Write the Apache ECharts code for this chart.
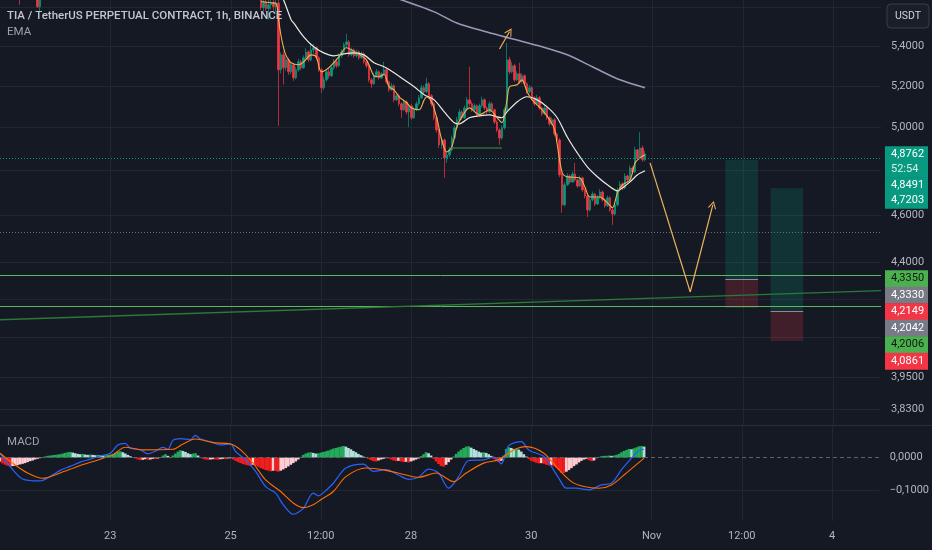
<!DOCTYPE html>
<html><head><meta charset="utf-8">
<script src="https://cdn.jsdelivr.net/npm/echarts@6.0.0/dist/echarts.min.js"></script>
<style>html,body{margin:0;padding:0;background:#151924;}#c{width:932px;height:550px;}</style>
</head><body><div id="c"></div><script>
// ---------- DATA ----------
const startTime = Date.UTC(2024, 9, 21, 4);   // first hourly category
const hourCount = 352;
const xTickTimes = ['2024-10-23 00:00','2024-10-25 00:00','2024-10-26 12:00','2024-10-28 00:00','2024-10-30 00:00','2024-11-01 00:00','2024-11-02 12:00','2024-11-04 00:00'];
const xTickLabels = ['23','25','12:00','28','30','Nov','12:00','4'];
const priceTickLabels = [5.4, 5.2, 5.0, 4.6, 4.4, 3.95, 3.83];
const priceGridTicks = [5.6, 5.4, 5.2, 5.0, 4.8, 4.6, 4.4, 4.25, 4.1, 3.95, 3.83];
const priceMin = 3.774, priceMax = 5.640;
const macdTickLabels = [0, -0.1];
const macdMin = -0.1924, macdMax = 0.0955;

// early candles peeking at the top edge: [hourIndex]
const earlyIdx = [8, 15, 16];
const earlyOhlc = [[5.700,5.660,5.614,5.720],[5.680,5.604,5.598,5.700],[5.604,5.660,5.577,5.680]];
// hourly candles [open, close, low, high] from hour index 104
const candleStart = 104;
const ohlc = [
[5.640,5.600,5.585,5.670],[5.600,5.630,5.575,5.660],[5.630,5.595,5.580,5.650],[5.595,5.615,5.535,5.640],[5.615,5.625,5.590,5.660],[5.625,5.605,5.585,5.650],[5.605,5.624,5.575,5.660],[5.624,5.280,5.007,5.640],[5.280,5.355,5.262,5.368],[5.355,5.290,5.206,5.372],
[5.290,5.330,5.275,5.345],[5.330,5.270,5.255,5.340],[5.270,5.305,5.258,5.318],[5.305,5.240,5.225,5.312],[5.240,5.280,5.232,5.295],[5.280,5.320,5.270,5.335],[5.320,5.290,5.278,5.330],[5.290,5.340,5.284,5.352],[5.340,5.370,5.330,5.388],[5.370,5.330,5.318,5.378],
[5.330,5.380,5.322,5.416],[5.380,5.391,5.360,5.410],[5.391,5.340,5.328,5.398],[5.340,5.280,5.268,5.348],[5.280,5.191,5.166,5.290],[5.191,5.230,5.180,5.246],[5.230,5.270,5.222,5.282],[5.270,5.250,5.236,5.285],[5.250,5.290,5.244,5.300],[5.290,5.320,5.280,5.334],
[5.320,5.300,5.288,5.330],[5.300,5.350,5.294,5.362],[5.350,5.370,5.340,5.384],[5.370,5.406,5.362,5.418],[5.406,5.421,5.392,5.462],[5.421,5.355,5.345,5.430],[5.355,5.380,5.348,5.392],[5.380,5.350,5.340,5.388],[5.350,5.370,5.342,5.382],[5.370,5.340,5.330,5.378],
[5.340,5.360,5.334,5.372],[5.360,5.320,5.310,5.368],[5.320,5.300,5.288,5.330],[5.300,5.230,5.218,5.306],[5.230,5.211,5.191,5.240],[5.211,5.250,5.204,5.262],[5.250,5.270,5.242,5.284],[5.270,5.240,5.230,5.276],[5.240,5.260,5.234,5.270],[5.260,5.280,5.250,5.320],
[5.280,5.220,5.210,5.288],[5.220,5.181,5.170,5.226],[5.181,5.201,5.175,5.215],[5.201,5.132,5.120,5.208],[5.132,5.152,5.125,5.166],[5.152,5.113,5.100,5.160],[5.113,5.084,5.046,5.120],[5.084,5.122,5.078,5.134],[5.122,5.074,5.062,5.130],[5.074,5.103,5.002,5.112],
[5.103,5.046,5.036,5.110],[5.046,5.084,5.040,5.096],[5.084,5.113,5.078,5.125],[5.113,5.142,5.106,5.156],[5.142,5.191,5.136,5.205],[5.191,5.171,5.160,5.202],[5.171,5.211,5.165,5.240],[5.211,5.152,5.142,5.218],[5.152,5.113,5.100,5.160],[5.113,5.046,5.034,5.120],
[5.046,4.988,4.975,5.052],[4.988,4.918,4.904,4.995],[4.918,4.941,4.900,4.955],[4.941,4.858,4.767,4.948],[4.858,4.872,4.835,4.885],[4.872,4.895,4.860,4.908],[4.895,4.950,4.888,4.962],[4.950,4.998,4.942,5.010],[4.998,5.036,4.990,5.050],[5.036,5.074,5.028,5.088],
[5.074,5.046,5.036,5.082],[5.046,5.093,5.040,5.105],[5.093,5.132,5.086,5.146],[5.132,5.113,5.100,5.295],[5.113,5.084,5.074,5.124],[5.084,5.103,5.076,5.115],[5.103,5.060,5.050,5.110],[5.060,5.103,5.054,5.114],[5.103,5.132,5.096,5.148],[5.132,5.093,5.084,5.140],
[5.093,5.074,5.064,5.100],[5.074,5.113,5.068,5.125],[5.113,5.084,5.074,5.120],[5.084,5.026,5.016,5.090],[5.026,4.988,4.978,5.034],[4.988,4.950,4.918,4.996],[4.950,4.998,4.942,5.010],[4.998,5.084,4.990,5.096],[5.084,5.330,5.076,5.416],[5.330,5.270,5.258,5.345],
[5.270,5.300,5.262,5.318],[5.300,5.230,5.220,5.310],[5.230,5.260,5.224,5.272],[5.260,5.220,5.210,5.315],[5.220,5.250,5.212,5.262],[5.250,5.211,5.200,5.258],[5.211,5.171,5.160,5.218],[5.171,5.191,5.164,5.204],[5.191,5.142,5.132,5.198],[5.142,5.113,5.102,5.150],
[5.113,5.142,5.106,5.156],[5.142,5.093,5.082,5.150],[5.093,5.065,5.054,5.100],[5.065,5.093,5.058,5.106],[5.093,5.046,5.036,5.100],[5.046,5.017,5.006,5.054],[5.017,5.036,5.010,5.048],[5.036,4.969,4.958,5.044],[4.969,4.941,4.930,4.976],[4.941,4.781,4.770,4.950],
[4.781,4.647,4.612,4.790],[4.647,4.736,4.640,4.748],[4.736,4.776,4.730,4.788],[4.776,4.749,4.740,4.784],[4.749,4.785,4.744,4.796],[4.785,4.758,4.750,4.835],[4.758,4.731,4.722,4.764],[4.731,4.767,4.726,4.778],[4.767,4.713,4.704,4.772],[4.713,4.686,4.676,4.720],
[4.686,4.625,4.594,4.692],[4.625,4.669,4.618,4.680],[4.669,4.695,4.662,4.706],[4.695,4.651,4.642,4.700],[4.651,4.678,4.646,4.690],[4.678,4.704,4.672,4.716],[4.704,4.669,4.660,4.710],[4.669,4.643,4.634,4.676],[4.643,4.678,4.638,4.688],[4.678,4.625,4.616,4.684],
[4.625,4.607,4.560,4.632],[4.607,4.647,4.600,4.658],[4.647,4.713,4.640,4.724],[4.713,4.740,4.706,4.752],[4.740,4.722,4.712,4.748],[4.722,4.776,4.716,4.788],[4.776,4.758,4.748,4.782],[4.758,4.812,4.752,4.824],[4.812,4.794,4.784,4.820],[4.794,4.895,4.788,4.910],
[4.895,4.858,4.848,4.900],[4.858,4.904,4.852,4.978],[4.904,4.849,4.840,4.915],[4.849,4.8762,4.842,4.890]
];
// EMA lines as [hourIndex, price]
const emaFast = [[104,5.632],[108,5.625],[110,5.622],[111,5.535],[112,5.45],[113,5.39],[114,5.35],[116,5.315],[119,5.305],[121,5.32],[124,5.355],[126,5.345],[128,5.27],[131,5.29],[135,5.345],[138,5.391],[142,5.365],[146,5.33],[149,5.25],[151,5.245],[153,5.258],[155,5.196],[157,5.181],[159,5.147],[162,5.118],[164,5.093],[167,5.084],[169,5.132],[170,5.147],[172,5.122],[174,5.046],[176,4.941],[178,4.885],[180,4.909],[182,5.002],[184,5.05],[187,5.093],[191,5.06],[195,5.084],[198,5.046],[200,5.022],[202,5.132],[203,5.196],[206,5.206],[208,5.23],[210,5.171],[212,5.132],[216,5.084],[219,5.036],[221,4.988],[222,4.92],[224,4.79],[226,4.772],[231,4.767],[233,4.727],[235,4.682],[239,4.682],[242,4.656],[244,4.634],[246,4.7],[248,4.736],[251,4.758],[253,4.835],[255,4.858],[257,4.872]];
const emaSlow = [[112,5.66],[113,5.64],[116,5.535],[117,5.519],[121,5.447],[125,5.396],[129,5.365],[133,5.35],[137,5.36],[141,5.365],[145,5.355],[149,5.315],[153,5.295],[157,5.265],[161,5.23],[165,5.196],[169,5.157],[173,5.132],[177,5.074],[181,5.022],[183,5.017],[187,5.046],[191,5.055],[195,5.06],[198,5.05],[200,5.046],[202,5.074],[206,5.122],[210,5.147],[214,5.132],[218,5.098],[222,5.046],[226,4.955],[230,4.881],[234,4.817],[238,4.772],[242,4.736],[246,4.709],[248,4.722],[251,4.749],[254,4.781],[257,4.799]];
const ema200 = [[159,5.645],[173,5.577],[182,5.519],[194,5.472],[204,5.437],[216,5.396],[226,5.355],[236,5.295],[247,5.23],[257,5.191]];
// MACD lines as [hourIndex, value]
const macdLine = [[0,0.013],[4,-0.027],[9,-0.065],[16,-0.071],[20,-0.058],[24,-0.039],[28,-0.027],[32,-0.014],[36,-0.005],[40,0.005],[44,0.013],[47,0.038],[50,0.043],[52,0.028],[56,0.023],[59,0.011],[62,0.019],[65,0.031],[67,0.025],[69,0.052],[72,0.057],[76,0.054],[78,0.067],[80,0.056],[84,0.048],[88,0.038],[92,0.041],[94,0.018],[98,-0.007],[102,-0.042],[106,-0.088],[110,-0.108],[113,-0.143],[117,-0.172],[121,-0.154],[125,-0.108],[127,-0.116],[131,-0.093],[133,-0.078],[138,-0.032],[145,-0.020],[149,-0.042],[154,-0.037],[159,-0.053],[163,-0.066],[167,-0.060],[171,-0.035],[175,-0.047],[179,-0.093],[183,-0.058],[187,-0.009],[193,-0.007],[197,0.001],[200,-0.019],[203,0.036],[208,0.048],[211,0.023],[217,0.003],[220,-0.027],[223,-0.063],[226,-0.093],[230,-0.093],[235,-0.098],[240,-0.083],[244,-0.078],[248,-0.037],[252,-0.002],[255,0.021],[257,0.025]];
const signalLine = [[0,0.013],[5,-0.017],[11,-0.047],[17,-0.063],[24,-0.047],[31,-0.027],[40,-0.005],[45,0.008],[50,0.031],[57,0.023],[69,0.025],[73,0.041],[78,0.056],[85,0.045],[92,0.041],[96,0.023],[101,-0.017],[106,-0.068],[112,-0.103],[117,-0.138],[121,-0.152],[125,-0.143],[128,-0.128],[133,-0.103],[138,-0.058],[146,-0.032],[154,-0.039],[162,-0.053],[167,-0.060],[174,-0.047],[181,-0.073],[186,-0.047],[193,-0.017],[199,-0.007],[205,0.023],[210,0.033],[217,0.013],[223,-0.037],[228,-0.073],[233,-0.088],[239,-0.093],[244,-0.083],[249,-0.053],[257,-0.002]];
// MACD histogram, hourly from hour index 0
const macdHist = [
-0.012,-0.018,-0.022,-0.025,-0.027,-0.026,-0.025,-0.023,-0.021,-0.019,
-0.017,-0.014,-0.011,-0.009,-0.006,-0.004,-0.002,0.001,0.003,0.005,
0.006,0.007,0.008,0.009,0.010,0.012,0.014,0.016,0.017,0.015,
0.013,0.011,0.010,0.011,0.009,0.008,0.009,0.008,0.007,0.008,
0.007,0.006,0.007,0.008,0.009,0.011,0.014,0.017,0.019,0.016,
0.012,0.008,0.004,0.001,-0.003,-0.006,-0.008,-0.007,-0.005,-0.007,
-0.006,-0.004,-0.005,-0.003,-0.001,0.006,0.010,0.005,-0.002,0.006,
0.012,0.018,0.022,0.020,0.017,0.013,0.010,0.012,0.013,0.006,
0.001,-0.004,-0.006,-0.007,-0.006,-0.005,-0.006,-0.007,-0.005,-0.004,
-0.005,-0.003,-0.002,-0.006,-0.010,-0.014,-0.017,-0.020,-0.022,-0.024,
-0.026,-0.022,-0.024,-0.028,-0.032,-0.035,-0.038,-0.040,-0.042,-0.040,
-0.041,-0.043,-0.040,-0.036,-0.032,-0.027,-0.022,-0.017,-0.012,-0.006,
0.002,0.008,0.012,0.015,0.016,0.014,0.012,0.013,0.015,0.017,
0.019,0.021,0.024,0.027,0.029,0.031,0.033,0.035,0.033,0.029,
0.025,0.020,0.016,0.011,0.007,0.003,0.000,-0.004,-0.008,-0.011,
-0.012,-0.009,-0.006,-0.004,-0.002,-0.003,-0.006,-0.009,-0.011,-0.010,
-0.012,-0.014,-0.013,-0.015,-0.012,-0.009,-0.006,-0.003,0.004,0.010,
0.016,0.013,0.006,-0.004,-0.012,-0.020,-0.026,-0.028,-0.022,-0.014,
-0.006,0.003,0.011,0.018,0.024,0.029,0.033,0.034,0.030,0.026,
0.022,0.018,0.015,0.016,0.014,0.010,0.005,-0.004,-0.010,-0.014,
-0.010,0.006,0.026,0.031,0.029,0.026,0.027,0.024,0.018,0.010,
0.003,-0.005,-0.010,-0.013,-0.016,-0.018,-0.017,-0.019,-0.022,-0.024,
-0.023,-0.027,-0.031,-0.038,-0.046,-0.047,-0.043,-0.038,-0.032,-0.026,
-0.021,-0.015,-0.010,-0.006,-0.004,-0.008,-0.011,-0.009,-0.002,0.002,
0.004,0.005,0.005,0.006,0.005,0.006,0.008,0.011,0.016,0.020,
0.023,0.026,0.025,0.028,0.031,0.034,0.035,0.033
];
// drawings
const lastPrice = 4.8762, countdown = '52:54';
const dottedLevel = 4.548;
const hLines = [4.3350, 4.2006];
const trendLine = [[0, 4.1688], [351, 4.2852]];
const supportSeg = [[180, 4.904], [200, 4.904]];
const arrowSmall = [[199, 5.385], [203, 5.473]];
const arrowPath = [[259, 4.835], [275, 4.2795], [284, 4.647]];
const posFrom = [289, 307], posTo = [302, 320];
const posTarget = [4.8491, 4.7203], posEntry = [4.3330, 4.2042], posStop = [4.2149, 4.0861];
const titleText = 'TIA / TetherUS PERPETUAL CONTRACT, 1h, BINANCE';

// ---------- BUILD ----------
const pad = n => String(n).padStart(2, '0');
const categories = [];
for (let k = 0; k < hourCount; k++) {
  const d = new Date(startTime + k * 3600e3);
  categories.push(d.getUTCFullYear() + '-' + pad(d.getUTCMonth() + 1) + '-' + pad(d.getUTCDate()) + ' ' + pad(d.getUTCHours()) + ':00');
}
const tickIdx = xTickTimes.map(t => categories.indexOf(t));
const L = Math.log;
const fmtP = v => v.toFixed(4).replace('.', ',');
const candleData = categories.map(() => '-');
earlyIdx.forEach((i, k) => { candleData[i] = earlyOhlc[k].map(L); });
ohlc.forEach((r, k) => { candleData[candleStart + k] = r.map(L); });
const toLn = arr => arr.map(([i, p]) => [i, L(p)]);
const cat = i => categories[i];

const UP = '#089981', DN = '#F23645', ARROW = '#eeb25b';
const chevron = 'path://M0,0 L6,9 L5,10 L0,2.6 L-5,10 L-6,9 Z';
const mlData = [
  {yAxis: L(lastPrice), lineStyle: {color: UP, type: [1, 2], width: 1}},
  {yAxis: L(dottedLevel), lineStyle: {color: '#6a6d78', type: [1, 2], width: 1}},
  ...hLines.map(v => ({yAxis: L(v), lineStyle: {color: '#5cb860', type: 'solid', width: 1}})),
  [{coord: [cat(trendLine[0][0]), L(trendLine[0][1])], lineStyle: {color: '#2b7a38', width: 1.4, type: 'solid'}}, {coord: [cat(trendLine[1][0]), L(trendLine[1][1])]}],
  [{coord: [cat(supportSeg[0][0]), L(supportSeg[0][1])], lineStyle: {color: '#2b6a3a', width: 1.5, type: 'solid'}}, {coord: [cat(supportSeg[1][0]), L(supportSeg[1][1])]}],
  [{coord: [cat(arrowSmall[0][0]), L(arrowSmall[0][1])], symbol: 'none', lineStyle: {color: ARROW, width: 1.2, type: 'solid'}}, {coord: [cat(arrowSmall[1][0]), L(arrowSmall[1][1])], symbol: chevron, symbolSize: 8}],
  [{coord: [cat(arrowPath[0][0]), L(arrowPath[0][1])], symbol: 'none', lineStyle: {color: ARROW, width: 1.2, type: 'solid'}}, {coord: [cat(arrowPath[1][0]), L(arrowPath[1][1])], symbol: 'none'}],
  [{coord: [cat(arrowPath[1][0]), L(arrowPath[1][1])], symbol: 'none', lineStyle: {color: ARROW, width: 1.2, type: 'solid'}}, {coord: [cat(arrowPath[2][0]), L(arrowPath[2][1])], symbol: chevron, symbolSize: 8}],
  ...posEntry.map((v, k) => [{coord: [cat(posFrom[k]), L(v)], lineStyle: {color: '#8a8d96', width: 1, type: 'solid'}}, {coord: [cat(posTo[k]), L(v)]}])
];
const maData = [];
posEntry.forEach((v, k) => {
  maData.push([{xAxis: cat(posFrom[k]), yAxis: L(v), itemStyle: {color: 'rgba(8,153,129,0.2)'}}, {xAxis: cat(posTo[k]), yAxis: L(posTarget[k])}]);
  maData.push([{xAxis: cat(posFrom[k]), yAxis: L(posStop[k]), itemStyle: {color: 'rgba(242,54,69,0.2)'}}, {xAxis: cat(posTo[k]), yAxis: L(v)}]);
});

const FONT = 'Roboto, "Noto Sans", sans-serif';
const GRID = '#222631', AXT = '#b2b5be';
const chart = echarts.init(document.getElementById('c'));
chart.setOption({
  backgroundColor: '#151924',
  animation: false,
  textStyle: {fontFamily: FONT},
  grid: [
    {left: 0, top: 0, width: 881, height: 425},
    {left: 0, top: 426, width: 881, height: 95}
  ],
  xAxis: [
    {type: 'category', gridIndex: 0, data: categories, boundaryGap: false,
     axisLine: {show: false}, axisTick: {show: false}, axisLabel: {show: false},
     splitLine: {show: true, interval: i => tickIdx.includes(i), lineStyle: {color: GRID, width: 1}}},
    {type: 'category', gridIndex: 1, data: categories, boundaryGap: false,
     axisLine: {show: false}, axisTick: {show: false},
     axisLabel: {show: true, interval: i => tickIdx.includes(i), formatter: (v, i) => xTickLabels[tickIdx.indexOf(i)] || '', color: AXT, fontSize: 11, margin: 10, fontFamily: FONT},
     splitLine: {show: true, interval: i => tickIdx.includes(i), lineStyle: {color: GRID, width: 1}}}
  ],
  yAxis: [
    {type: 'value', gridIndex: 0, position: 'right', min: L(priceMin), max: L(priceMax),
     axisLine: {show: false}, axisTick: {show: false, customValues: priceGridTicks.map(L)},
     axisLabel: {customValues: priceTickLabels.map(L), formatter: v => fmtP(Math.exp(v)), color: AXT, fontSize: 11, margin: 10, fontFamily: FONT},
     splitLine: {show: true, lineStyle: {color: GRID, width: 1}}},
    {type: 'value', gridIndex: 1, position: 'right', min: macdMin, max: macdMax,
     axisLine: {show: false}, axisTick: {show: false, customValues: [-0.1]},
     axisLabel: {customValues: macdTickLabels, formatter: v => (v < 0 ? '\u2212' : '') + Math.abs(v).toFixed(4).replace('.', ','), color: AXT, fontSize: 11, margin: 10, fontFamily: FONT},
     splitLine: {show: true, lineStyle: {color: GRID, width: 1}}}
  ],
  series: [
    {type: 'candlestick', xAxisIndex: 0, yAxisIndex: 0, data: candleData, barWidth: 2.0,
     itemStyle: {color: UP, color0: DN, borderColor: UP, borderColor0: DN, borderWidth: 0.7},
     markArea: {silent: true, data: maData, z: 1},
     markLine: {silent: true, symbol: ['none', 'none'], label: {show: false}, emphasis: {disabled: true}, data: mlData, animation: false}},
    {type: 'line', xAxisIndex: 0, yAxisIndex: 0, data: toLn(ema200), showSymbol: false, symbol: 'none', smooth: 0.3, lineStyle: {color: '#9b97b8', width: 1.6}},
    {type: 'line', xAxisIndex: 0, yAxisIndex: 0, data: toLn(emaSlow), showSymbol: false, symbol: 'none', smooth: 0.3, lineStyle: {color: '#ecebe2', width: 1.2}},
    {type: 'line', xAxisIndex: 0, yAxisIndex: 0, data: toLn(emaFast), showSymbol: false, symbol: 'none', smooth: 0.3, lineStyle: {color: '#f2b04c', width: 1.1}},
    {type: 'bar', xAxisIndex: 1, yAxisIndex: 1, data: macdHist, barWidth: 2.7,
     itemStyle: {color: p => { const v = macdHist[p.dataIndex]; const pr = p.dataIndex > 0 ? macdHist[p.dataIndex - 1] : v;
       return v >= 0 ? (v >= pr ? '#22ab5a' : '#b2dfdb') : (v < pr ? '#f21d1d' : '#ffcdd2'); }},
     markLine: {silent: true, symbol: ['none', 'none'], label: {show: false}, data: [{yAxis: 0}], lineStyle: {color: '#5d606b', type: [4, 3], width: 1}}},
    {type: 'line', xAxisIndex: 1, yAxisIndex: 1, data: macdLine, showSymbol: false, symbol: 'none', smooth: 0.3, lineStyle: {color: '#2962ff', width: 1.2}},
    {type: 'line', xAxisIndex: 1, yAxisIndex: 1, data: signalLine, showSymbol: false, symbol: 'none', smooth: 0.3, lineStyle: {color: '#ff6d00', width: 1.1}}
  ]
});

// ---------- overlays: texts & stacked price labels ----------
const rows = [];
rows.push({v: lastPrice, text: fmtP(lastPrice), bg: UP, fg: '#ffffff', h: 15.5});
rows.push({v: lastPrice, text: countdown, bg: UP, fg: '#d6efe9', h: 15.5});
posTarget.forEach(v => rows.push({v, text: fmtP(v), bg: UP, fg: '#ffffff', h: 15.5}));
hLines.forEach(v => rows.push({v, text: fmtP(v), bg: '#4caf50', fg: '#0d1a10', h: 16.5}));
posEntry.forEach(v => rows.push({v, text: fmtP(v), bg: '#787b86', fg: '#ffffff', h: 16.5}));
posStop.forEach(v => rows.push({v, text: fmtP(v), bg: DN, fg: '#ffffff', h: 16.5}));
rows.sort((a, b) => b.v - a.v);
const gfx = [];
let prevY = -1e9, prevH = 0;
rows.forEach(r => {
  const nat = chart.convertToPixel({yAxisIndex: 0}, L(r.v));
  const y = Math.max(nat, prevY + (prevH + r.h) / 2);
  prevY = y; prevH = r.h;
  gfx.push({type: 'rect', z: 100, shape: {x: 885, y: y - r.h / 2, width: 43, height: r.h + 0.6}, style: {fill: r.bg}});
  gfx.push({type: 'text', z: 101, x: 891, y: y, style: {text: r.text, fill: r.fg, font: '11px ' + FONT, verticalAlign: 'middle'}});
});
gfx.push({type: 'line', z: 50, shape: {x1: 0, y1: 425.5, x2: 932, y2: 425.5}, style: {stroke: '#2a2e39', lineWidth: 1}});
gfx.push({type: 'rect', z: 100, shape: {x: 887, y: 4, width: 42, height: 24, r: 4}, style: {fill: '#1a1e29', stroke: '#3a3e4a', lineWidth: 1}});
gfx.push({type: 'text', z: 101, x: 908, y: 16, style: {text: 'USDT', fill: '#d1d4dc', font: '10.5px ' + FONT, align: 'center', verticalAlign: 'middle'}});
gfx.push({type: 'text', z: 101, x: 7, y: 16, style: {text: titleText, fill: '#c3c6ce', font: '500 11.5px ' + FONT, verticalAlign: 'middle'}});
gfx.push({type: 'text', z: 101, x: 7, y: 32, style: {text: 'EMA', fill: '#9ea1aa', font: '11.5px ' + FONT, verticalAlign: 'middle'}});
gfx.push({type: 'text', z: 101, x: 7, y: 442, style: {text: 'MACD', fill: '#9ea1aa', font: '11.5px ' + FONT, verticalAlign: 'middle'}});
chart.setOption({graphic: gfx});
</script></body></html>
